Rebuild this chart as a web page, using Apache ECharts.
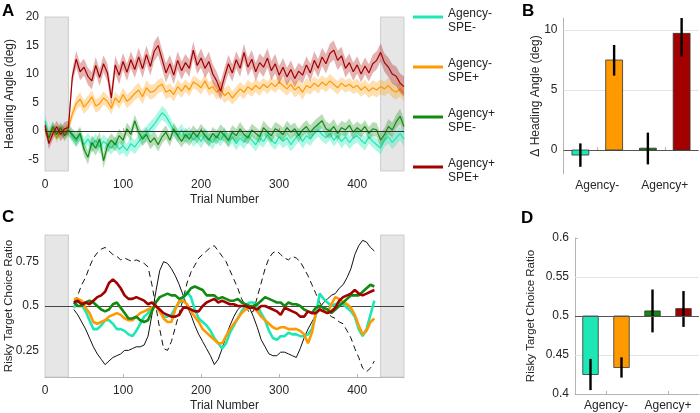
<!DOCTYPE html>
<html>
<head>
<meta charset="utf-8">
<script src="https://cdn.jsdelivr.net/npm/echarts@6/dist/echarts.min.js"></script>
<style>html,body{margin:0;padding:0;background:#fff}#c{width:700px;height:413px}</style>
</head>
<body>
<div id="c"></div>
<script>
// ---------- DATA ----------
const legendNames = ['Agency- SPE-', 'Agency- SPE+', 'Agency+ SPE-', 'Agency+ SPE+'];
const groupLabels = ['Agency-', 'Agency+'];

// Panel A: heading angle per trial (sampled every 5 trials, 0..460)
const trialsA = Array.from({length: 93}, (_, i) => i * 5);
const headCyan = [1.8,-0.4,0.6,-0.6,0.2,-0.2,0.3,-1.0,-1.8,-0.6,-2.4,-1.4,-2.6,-1.6,-2.8,-1.8,-2.4,-3.0,-2.0,-3.2,-2.6,-3.4,-2.2,-2.8,-1.8,-1.0,-0.4,0.4,1.2,2.2,3.2,2.6,1.4,0.0,-0.8,0.2,-1.2,-0.4,-1.6,-0.8,-1.8,-0.6,-1.4,-2.0,-0.8,-1.6,-0.4,-1.8,-1.0,-2.2,-1.2,-2.0,-0.8,-1.6,-2.4,-1.2,-1.8,-0.6,-1.6,-2.2,-1.0,-1.8,-1.2,-2.4,-1.4,-0.6,-1.8,-0.8,-1.4,-0.4,0.2,-0.6,-1.2,-0.4,-1.6,-0.8,-1.8,-1.0,-2.0,-1.2,-0.8,-1.6,-2.2,-1.0,-1.8,-2.4,-3.0,-1.6,-1.0,-2.0,-1.2,-0.4,-1.4];
const headOrange = [0.3,-0.8,0.5,-1.2,0.2,-0.4,0.5,3.0,4.8,5.6,4.2,5.0,6.0,4.4,4.8,5.8,5.2,4.0,5.8,5.0,6.4,5.2,5.8,6.6,7.2,6.0,7.6,6.8,7.0,7.8,8.2,6.8,7.2,6.4,7.8,7.0,8.0,7.2,8.6,8.2,7.6,8.8,7.4,7.8,6.8,7.4,6.2,6.8,5.8,6.6,7.4,6.8,7.8,7.2,8.0,7.4,8.2,7.6,8.4,7.8,8.6,8.0,7.4,8.2,7.2,7.8,6.8,8.0,7.6,8.4,7.8,8.6,8.0,8.8,8.2,7.6,8.4,7.8,8.2,7.6,8.0,7.2,7.8,7.0,7.6,7.2,7.8,7.4,8.0,7.2,6.8,7.4,6.6];
const headGreen = [0.4,-1.2,0.8,-0.6,0.6,-0.8,0.2,-0.6,-1.4,-0.4,-3.2,-4.6,-2.0,-3.0,-1.4,-5.2,-2.6,-1.6,-2.4,-0.8,-1.6,0.4,-0.6,1.8,-0.2,-1.4,-0.6,-2.0,-1.2,-2.4,-1.0,-0.2,-1.6,0.4,-0.8,-1.8,-0.6,-1.4,-0.2,-1.0,0.2,-0.8,-1.6,-0.4,-1.2,0.0,-0.8,-1.6,-0.2,-0.8,0.4,-0.6,-1.2,0.2,-0.4,-1.0,0.6,-0.2,-0.8,0.4,0.0,-0.6,0.6,-0.2,0.4,-0.8,0.2,0.8,-0.2,0.6,1.2,1.8,0.4,0.0,0.8,-0.4,0.6,0.2,1.0,-0.2,0.6,0.0,0.8,-0.4,0.4,0.2,-1.6,-0.6,0.8,0.2,1.6,2.6,0.8];
const headRed = [1.0,-2.2,-0.5,0.8,-0.6,0.4,0.6,9.5,12.6,10.4,11.2,9.6,8.8,11.5,9.4,11.8,10.2,5.8,11.6,9.8,12.2,10.3,12.5,10.8,13.0,10.9,13.4,11.3,14.0,15.0,12.6,10.2,11.8,9.8,12.4,10.6,12.0,11.0,14.2,11.5,12.8,11.0,12.2,10.0,8.8,7.0,9.5,11.8,10.2,12.5,11.0,13.8,11.2,12.6,10.4,12.0,11.2,12.8,10.6,11.8,9.8,11.2,9.5,10.8,9.2,10.5,9.8,11.6,10.2,12.4,11.0,13.0,11.8,13.6,14.2,12.4,13.2,11.0,12.0,10.4,11.6,10.0,11.4,10.2,11.8,12.4,13.8,12.0,11.2,10.0,9.6,8.4,7.8];
// standard error per 20-trial block
const semCyan   = [1.0,1.0,1.1,1.2,1.1,1.2,1.3,1.2,1.1,1.2,1.2,1.1,1.2,1.2,1.1,1.2,1.3,1.2,1.1,1.2,1.2,1.1,1.2,1.3];
const semOrange = [0.9,1.0,1.2,1.2,1.1,1.2,1.3,1.2,1.2,1.1,1.2,1.3,1.2,1.2,1.1,1.2,1.3,1.2,1.2,1.1,1.2,1.3,1.3,1.4];
const semGreen  = [0.9,1.0,1.2,1.3,1.2,1.1,1.2,1.2,1.1,1.2,1.1,1.2,1.2,1.1,1.2,1.2,1.1,1.2,1.3,1.2,1.1,1.2,1.3,1.3];
const semRed    = [1.0,1.2,1.5,1.5,1.6,1.5,1.6,1.7,1.6,1.5,1.7,1.6,1.5,1.6,1.7,1.6,1.5,1.6,1.7,1.6,1.5,1.6,1.7,1.8];

// Panel B: delta heading angle
const deltaHeading = [-0.42, 7.5, 0.15, 9.72];
const deltaLo = [-1.4, 6.2, -1.2, 7.8];
const deltaHi = [0.55, 8.75, 1.45, 11.0];

// Panel C: risky target choice ratio (trials 37..422, every 5)
const trialsC = Array.from({length: 78}, (_, i) => 37 + i * 5);
const riskDashed = [0.52,0.56,0.62,0.66,0.72,0.77,0.80,0.82,0.83,0.81,0.79,0.78,0.76,0.77,0.76,0.75,0.76,0.75,0.74,0.72,0.62,0.50,0.37,0.26,0.25,0.30,0.38,0.46,0.54,0.63,0.69,0.73,0.77,0.79,0.81,0.83,0.84,0.81,0.78,0.75,0.70,0.65,0.60,0.54,0.50,0.46,0.47,0.55,0.63,0.71,0.77,0.80,0.81,0.79,0.77,0.76,0.78,0.77,0.75,0.71,0.67,0.62,0.57,0.52,0.48,0.46,0.44,0.43,0.41,0.40,0.36,0.32,0.26,0.21,0.15,0.13,0.15,0.19];
const riskSolid = [0.48,0.45,0.41,0.37,0.32,0.27,0.23,0.20,0.17,0.19,0.21,0.22,0.23,0.25,0.25,0.26,0.27,0.27,0.28,0.33,0.45,0.58,0.70,0.75,0.74,0.71,0.67,0.62,0.56,0.50,0.45,0.39,0.34,0.30,0.26,0.22,0.17,0.20,0.26,0.33,0.39,0.44,0.48,0.50,0.51,0.49,0.44,0.38,0.31,0.27,0.23,0.22,0.22,0.24,0.24,0.23,0.22,0.21,0.26,0.32,0.37,0.41,0.45,0.49,0.52,0.54,0.56,0.57,0.60,0.62,0.66,0.71,0.79,0.84,0.87,0.86,0.83,0.81];
const riskCyan = [0.49,0.53,0.51,0.47,0.42,0.37,0.37,0.39,0.42,0.42,0.40,0.37,0.37,0.36,0.34,0.33,0.36,0.40,0.44,0.46,0.49,0.50,0.47,0.44,0.44,0.45,0.49,0.52,0.54,0.58,0.55,0.48,0.43,0.41,0.39,0.36,0.32,0.29,0.26,0.29,0.35,0.39,0.43,0.47,0.50,0.52,0.52,0.50,0.46,0.42,0.36,0.32,0.31,0.33,0.33,0.35,0.34,0.34,0.33,0.33,0.34,0.37,0.45,0.57,0.54,0.52,0.50,0.51,0.52,0.51,0.49,0.47,0.44,0.37,0.33,0.37,0.45,0.53];
const riskOrange = [0.54,0.54,0.53,0.49,0.46,0.41,0.40,0.41,0.42,0.44,0.45,0.46,0.45,0.43,0.42,0.42,0.44,0.46,0.47,0.48,0.49,0.50,0.47,0.43,0.41,0.41,0.48,0.53,0.53,0.51,0.47,0.44,0.41,0.37,0.35,0.33,0.31,0.29,0.29,0.33,0.37,0.40,0.43,0.46,0.48,0.49,0.49,0.47,0.44,0.42,0.40,0.38,0.37,0.38,0.38,0.37,0.37,0.37,0.36,0.34,0.29,0.35,0.46,0.48,0.47,0.46,0.51,0.55,0.54,0.52,0.51,0.49,0.45,0.39,0.34,0.36,0.41,0.43];
const riskGreen = [0.52,0.50,0.50,0.52,0.53,0.52,0.50,0.48,0.47,0.48,0.51,0.52,0.49,0.46,0.43,0.43,0.44,0.42,0.41,0.42,0.47,0.52,0.55,0.56,0.57,0.56,0.56,0.54,0.55,0.57,0.60,0.61,0.60,0.59,0.56,0.56,0.56,0.54,0.55,0.54,0.53,0.53,0.54,0.52,0.51,0.50,0.50,0.51,0.53,0.55,0.54,0.53,0.52,0.52,0.50,0.52,0.51,0.51,0.50,0.48,0.47,0.46,0.49,0.50,0.49,0.48,0.46,0.48,0.50,0.52,0.54,0.56,0.56,0.56,0.58,0.60,0.62,0.61];
const riskRed = [0.52,0.53,0.51,0.52,0.51,0.53,0.55,0.56,0.58,0.63,0.65,0.63,0.60,0.56,0.54,0.54,0.55,0.54,0.53,0.51,0.52,0.50,0.48,0.46,0.45,0.44,0.44,0.45,0.49,0.49,0.48,0.47,0.47,0.50,0.52,0.53,0.54,0.52,0.53,0.52,0.51,0.51,0.50,0.50,0.50,0.49,0.49,0.48,0.50,0.50,0.49,0.48,0.47,0.45,0.49,0.48,0.47,0.46,0.44,0.44,0.47,0.46,0.46,0.48,0.47,0.46,0.47,0.49,0.53,0.55,0.56,0.57,0.59,0.57,0.56,0.57,0.58,0.59];

// Panel D: mean risky target choice ratio
const riskMean = [0.425, 0.434, 0.5065, 0.5095];
const riskLo = [0.405, 0.421, 0.479, 0.486];
const riskHi = [0.445, 0.447, 0.534, 0.532];

// ---------- STYLE ----------
const COL = ['#1de8b5', '#ff9900', '#118a11', '#a30000'];
const BAND = ['rgba(29,232,181,0.35)', 'rgba(255,153,0,0.3)', 'rgba(17,138,17,0.3)', 'rgba(170,0,0,0.3)'];
const FONT = 'Liberation Sans, Arial, sans-serif';
const TXT = '#262626';
const AX = '#b4b4b4';

const chart = echarts.init(document.getElementById('c'), null, {renderer: 'canvas'});

const headVals = [headCyan, headOrange, headGreen, headRed];
const headSems = [semCyan, semOrange, semGreen, semRed];
const riskVals = [riskCyan, riskOrange, riskGreen, riskRed];

function tickCfg(vals) {
  return {show: true, inside: true, length: 3, lineStyle: {color: AX}, customValues: vals};
}
function labelCfg(vals, margin, fmt) {
  const o = {color: TXT, fontFamily: FONT, fontSize: 12, margin: margin, customValues: vals};
  if (fmt) o.formatter = fmt;
  return o;
}
function axisCommon(extra) {
  return Object.assign({
    axisLine: {show: true, lineStyle: {color: AX, width: 1}},
    splitLine: {show: false},
    nameMoveOverlap: false,
    nameTextStyle: {color: TXT, fontFamily: FONT, fontSize: 12}
  }, extra);
}

const series = [];

// gray shaded regions (panel A)
series.push({
  type: 'line', xAxisIndex: 0, yAxisIndex: 0, data: [[0, 0]], symbol: 'none', silent: true, z: 1,
  lineStyle: {opacity: 0},
  markArea: {silent: true, z: 1, itemStyle: {color: '#e6e6e6', borderColor: '#c4c4c4', borderWidth: 0.8},
    data: [[{xAxis: 0}, {xAxis: 30}], [{xAxis: 430}, {xAxis: 460}]]}
});
// bands & lines panel A
for (let k = 0; k < 4; k++) {
  const vals = headVals[k], sems = headSems[k];
  series.push({
    type: 'custom', xAxisIndex: 0, yAxisIndex: 0, silent: true, z: 2 + k * 2, clip: true,
    data: [[0, 0]],
    renderItem: function (params, api) {
      const up = [], dn = [];
      vals.forEach(function (v, i) {
        const t = trialsA[i];
        const s = sems[Math.floor(t / 20)];
        up.push(api.coord([t, v + s]));
        dn.push(api.coord([t, v - s]));
      });
      return {type: 'polygon', shape: {points: up.concat(dn.reverse())}, style: {fill: BAND[k]}};
    }
  });
  series.push({
    name: legendNames[k], type: 'line', xAxisIndex: 0, yAxisIndex: 0, z: 3 + k * 2,
    data: vals.map(function (v, i) { return [trialsA[i], v]; }),
    symbol: 'none', lineStyle: {color: COL[k], width: 1.2}, itemStyle: {color: COL[k]}
  });
}
series.push({
  type: 'line', xAxisIndex: 0, yAxisIndex: 0, data: [[0, 0]], symbol: 'none', silent: true, z: 20,
  lineStyle: {opacity: 0},
  markLine: {silent: true, z: 20, symbol: 'none', label: {show: false}, lineStyle: {color: '#333', width: 1, type: 'solid'},
    data: [{yAxis: 0}]}
});

// Panel B grid lines (behind bars)
series.push({
  type: 'line', xAxisIndex: 1, yAxisIndex: 1, data: [[1, 0]], symbol: 'none', silent: true, z: 1,
  lineStyle: {opacity: 0},
  markLine: {silent: true, z: 1, symbol: 'none', label: {show: false},
    data: [{yAxis: 5, lineStyle: {color: '#e4e4e4', width: 1, type: 'solid'}},
           {yAxis: 10, lineStyle: {color: '#e4e4e4', width: 1, type: 'solid'}},
           {yAxis: 0, lineStyle: {color: '#555', width: 1, type: 'solid'}}]}
});
function barRender(base, vals, lo, hi) {
  return function (params, api) {
    const i = params.dataIndex;
    const x = api.value(0);
    const b = api.coord([x, base]);
    const t = api.coord([x, vals[i]]);
    const w = api.size([0.5, 0])[0];
    const eLo = api.coord([x, lo[i]]);
    const eHi = api.coord([x, hi[i]]);
    return {type: 'group', children: [
      {type: 'rect', shape: {x: b[0] - w / 2, y: Math.min(b[1], t[1]), width: w, height: Math.max(1, Math.abs(t[1] - b[1]))},
        style: {fill: COL[i], stroke: '#333', lineWidth: 0.8}},
      {type: 'line', shape: {x1: b[0], y1: eLo[1], x2: b[0], y2: eHi[1]}, style: {stroke: '#000', lineWidth: 2.4}}
    ]};
  };
}
series.push({
  type: 'custom', xAxisIndex: 1, yAxisIndex: 1, z: 3, silent: true, clip: false,
  data: deltaHeading.map(function (v, i) { return [i + 1, v]; }),
  renderItem: barRender(0, deltaHeading, deltaLo, deltaHi)
});

// Panel C
series.push({
  type: 'line', xAxisIndex: 2, yAxisIndex: 2, data: [[0, 0.5]], symbol: 'none', silent: true, z: 1,
  lineStyle: {opacity: 0},
  markArea: {silent: true, z: 1, itemStyle: {color: '#e6e6e6', borderColor: '#c4c4c4', borderWidth: 0.8},
    data: [[{xAxis: 0}, {xAxis: 30}], [{xAxis: 430}, {xAxis: 460}]]},
  markLine: {silent: true, z: 2, symbol: 'none', label: {show: false}, lineStyle: {color: '#444', width: 1, type: 'solid'},
    data: [{yAxis: 0.5}]}
});
series.push({
  type: 'line', xAxisIndex: 2, yAxisIndex: 2, z: 3, symbol: 'none', silent: true,
  data: riskSolid.map(function (v, i) { return [trialsC[i], v]; }),
  lineStyle: {color: '#111', width: 1}
});
series.push({
  type: 'line', xAxisIndex: 2, yAxisIndex: 2, z: 3, symbol: 'none', silent: true,
  data: riskDashed.map(function (v, i) { return [trialsC[i], v]; }),
  lineStyle: {color: '#111', width: 1, type: [6, 4]}
});
for (let k = 0; k < 4; k++) {
  series.push({
    type: 'line', xAxisIndex: 2, yAxisIndex: 2, z: 4 + k, symbol: 'none', silent: true,
    data: riskVals[k].map(function (v, i) { return [trialsC[i], v]; }),
    lineStyle: {color: COL[k], width: 2.6}
  });
}

// Panel D
series.push({
  type: 'line', xAxisIndex: 3, yAxisIndex: 3, data: [[1, 0.5]], symbol: 'none', silent: true, z: 1,
  lineStyle: {opacity: 0},
  markLine: {silent: true, z: 1, symbol: 'none', label: {show: false},
    data: [{yAxis: 0.45, lineStyle: {color: '#e4e4e4', width: 1, type: 'solid'}},
           {yAxis: 0.55, lineStyle: {color: '#e4e4e4', width: 1, type: 'solid'}}]}
});
series.push({
  type: 'custom', xAxisIndex: 3, yAxisIndex: 3, z: 3, silent: true, clip: false,
  data: riskMean.map(function (v, i) { return [i + 1, v]; }),
  renderItem: barRender(0.5, riskMean, riskLo, riskHi)
});
series.push({
  type: 'line', xAxisIndex: 3, yAxisIndex: 3, data: [[1, 0.5]], symbol: 'none', silent: true, z: 5,
  lineStyle: {opacity: 0},
  markLine: {silent: true, z: 6, symbol: 'none', label: {show: false}, lineStyle: {color: '#555', width: 1, type: 'solid'},
    data: [{yAxis: 0.5}]}
});

const groupTickVals = groupLabels.map(function (_, g) { return 2 * g + 1.5; });
function groupFmt(v) { return groupLabels[Math.round((v - 1.5) / 2)]; }
const trialTicks = [0, 100, 200, 300, 400];

const option = {
  animation: false,
  backgroundColor: '#fff',
  textStyle: {fontFamily: FONT},
  grid: [
    {left: 45, top: 17, width: 359, height: 154, containLabel: false, outerBoundsMode: 'none'},
    {left: 563.5, top: 18, width: 135, height: 156, containLabel: false, outerBoundsMode: 'none'},
    {left: 45, top: 235, width: 359, height: 142, containLabel: false, outerBoundsMode: 'none'},
    {left: 575, top: 238, width: 124, height: 156, containLabel: false, outerBoundsMode: 'none'}
  ],
  xAxis: [
    axisCommon({gridIndex: 0, type: 'value', min: 0, max: 460, name: 'Trial Number', nameLocation: 'middle', nameGap: 23,
      axisTick: tickCfg(trialTicks), axisLabel: labelCfg(trialTicks, 8)}),
    axisCommon({gridIndex: 1, type: 'value', min: 0.5, max: 4.5,
      axisTick: tickCfg(groupTickVals), axisLabel: labelCfg(groupTickVals, 6, groupFmt)}),
    axisCommon({gridIndex: 2, type: 'value', min: 0, max: 460, name: 'Trial Number', nameLocation: 'middle', nameGap: 23,
      axisTick: tickCfg(trialTicks), axisLabel: labelCfg(trialTicks, 8)}),
    axisCommon({gridIndex: 3, type: 'value', min: 0.5, max: 4.5,
      axisTick: tickCfg(groupTickVals), axisLabel: labelCfg(groupTickVals, 6, groupFmt)})
  ],
  yAxis: [
    axisCommon({gridIndex: 0, type: 'value', min: -7, max: 20, name: 'Heading Angle (deg)', nameLocation: 'middle', nameGap: 29,
      axisTick: tickCfg([-5, 0, 5, 10, 15, 20]), axisLabel: labelCfg([-5, 0, 5, 10, 15, 20], 6)}),
    axisCommon({gridIndex: 1, type: 'value', min: -2, max: 11, name: 'Δ Heading Angle (deg)', nameLocation: 'middle', nameGap: 22,
      axisTick: tickCfg([0, 5, 10]), axisLabel: labelCfg([0, 5, 10], 6)}),
    axisCommon({gridIndex: 2, type: 'value', min: 0.1, max: 0.9, name: 'Risky Target Choice Ratio', nameLocation: 'middle', nameGap: 30,
      nameTextStyle: {color: TXT, fontFamily: FONT, fontSize: 11.5},
      axisTick: tickCfg([0.25, 0.5, 0.75]), axisLabel: labelCfg([0.25, 0.5, 0.75], 6)}),
    axisCommon({gridIndex: 3, type: 'value', min: 0.4, max: 0.6, name: 'Risky Target Choice Ratio', nameLocation: 'middle', nameGap: 38,
      nameTextStyle: {color: TXT, fontFamily: FONT, fontSize: 11.5},
      axisTick: tickCfg([0.4, 0.45, 0.5, 0.55, 0.6]), axisLabel: labelCfg([0.4, 0.45, 0.5, 0.55, 0.6], 6)})
  ],
  legend: {
    orient: 'vertical', left: 413, top: 1, padding: 0, itemWidth: 30, itemHeight: 3, itemGap: 17, icon: 'rect',
    data: legendNames, selectedMode: false,
    formatter: function (n) { const p = n.split(' '); return '{s| }\n{t|' + p[0] + '}\n{t|' + p[1] + '}'; },
    textStyle: {color: TXT, fontFamily: FONT, fontSize: 12,
      rich: {s: {fontSize: 4, lineHeight: 8}, t: {color: TXT, fontFamily: FONT, fontSize: 12, lineHeight: 14}}}
  },
  graphic: [
    {type: 'text', left: 2, top: 3, style: {text: 'A', font: 'bold 17px ' + FONT, fill: '#000'}},
    {type: 'text', left: 522, top: 3, style: {text: 'B', font: 'bold 17px ' + FONT, fill: '#000'}},
    {type: 'text', left: 2, top: 209, style: {text: 'C', font: 'bold 17px ' + FONT, fill: '#000'}},
    {type: 'text', left: 521, top: 210, style: {text: 'D', font: 'bold 17px ' + FONT, fill: '#000'}}
  ],
  series: series
};
chart.setOption(option);
</script>
</body>
</html>
